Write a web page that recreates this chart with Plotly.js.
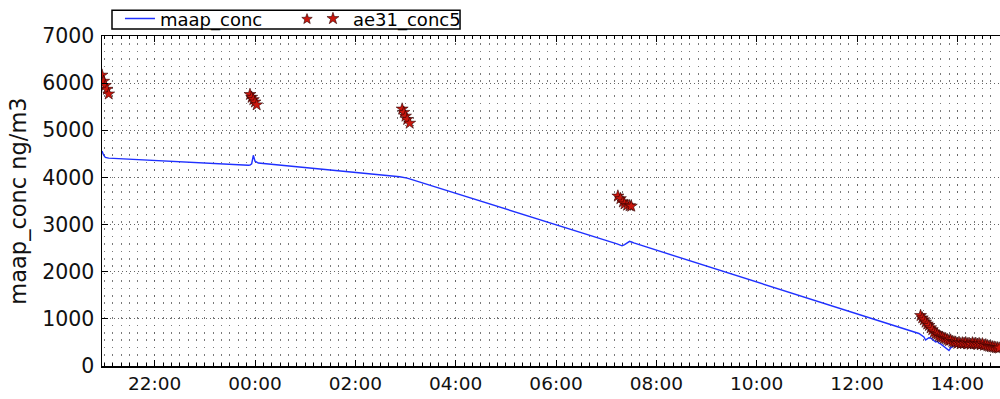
<!DOCTYPE html>
<html>
<head>
<meta charset="utf-8">
<script src="https://cdn.plot.ly/plotly-3.0.1.min.js"></script>
<style>
html,body{margin:0;padding:0;background:#fff;}
#chart{width:1000px;height:399px;}
</style>
</head>
<body>
<div id="chart"></div>
<script>
// maap_conc (blue line)
const maapTime = [
 '2014-06-12 20:57','2014-06-12 20:59','2014-06-12 21:01','2014-06-12 21:03','2014-06-12 21:05',
 '2014-06-12 23:52','2014-06-12 23:54','2014-06-12 23:56','2014-06-12 23:58','2014-06-13 00:00','2014-06-13 00:02','2014-06-13 00:04',
 '2014-06-13 02:53','2014-06-13 02:56','2014-06-13 02:59','2014-06-13 03:02',
 '2014-06-13 07:13','2014-06-13 07:16','2014-06-13 07:19','2014-06-13 07:22','2014-06-13 07:25','2014-06-13 07:28','2014-06-13 07:31','2014-06-13 07:33',
 '2014-06-13 13:14','2014-06-13 13:16','2014-06-13 13:18','2014-06-13 13:20','2014-06-13 13:22','2014-06-13 13:24','2014-06-13 13:26','2014-06-13 13:28',
 '2014-06-13 13:30','2014-06-13 13:32','2014-06-13 13:34','2014-06-13 13:36','2014-06-13 13:38','2014-06-13 13:40','2014-06-13 13:42','2014-06-13 13:44',
 '2014-06-13 13:46','2014-06-13 13:48','2014-06-13 13:50','2014-06-13 13:52','2014-06-13 13:54','2014-06-13 13:56','2014-06-13 13:58','2014-06-13 14:00',
 '2014-06-13 14:02','2014-06-13 14:04','2014-06-13 14:06','2014-06-13 14:08','2014-06-13 14:10','2014-06-13 14:12','2014-06-13 14:14','2014-06-13 14:16',
 '2014-06-13 14:18','2014-06-13 14:20','2014-06-13 14:22','2014-06-13 14:24','2014-06-13 14:26','2014-06-13 14:28','2014-06-13 14:30','2014-06-13 14:32',
 '2014-06-13 14:34','2014-06-13 14:36','2014-06-13 14:38','2014-06-13 14:40','2014-06-13 14:42','2014-06-13 14:44','2014-06-13 14:46','2014-06-13 14:48',
 '2014-06-13 14:50'
];
const maapConc = [
 4560,4470,4425,4415,4410,
 4258,4262,4290,4470,4345,4315,4305,
 4015,4008,4000,3985,
 2590,2570,2550,2575,2610,2645,2625,2610,
 690,665,640,615,550,585,600,595,
 560,530,510,525,485,470,440,425,
 400,365,330,385,410,430,425,440,
 420,445,430,450,440,455,430,445,
 440,450,430,440,420,435,415,425,
 405,410,395,400,385,390,375,380,
 370
];

// ae31_conc5 (red stars)
const aeTime = [
 '2014-06-12 20:57','2014-06-12 20:59','2014-06-12 21:01','2014-06-12 21:03','2014-06-12 21:05',
 '2014-06-12 23:54','2014-06-12 23:56','2014-06-12 23:58','2014-06-13 00:00','2014-06-13 00:02',
 '2014-06-13 02:56','2014-06-13 02:58','2014-06-13 03:00','2014-06-13 03:02','2014-06-13 03:05',
 '2014-06-13 07:14','2014-06-13 07:17','2014-06-13 07:20','2014-06-13 07:22','2014-06-13 07:25','2014-06-13 07:28','2014-06-13 07:30',
 '2014-06-13 13:16','2014-06-13 13:18','2014-06-13 13:20','2014-06-13 13:22','2014-06-13 13:24','2014-06-13 13:26','2014-06-13 13:28','2014-06-13 13:30',
 '2014-06-13 13:32','2014-06-13 13:34','2014-06-13 13:36','2014-06-13 13:38','2014-06-13 13:40','2014-06-13 13:42','2014-06-13 13:44','2014-06-13 13:46',
 '2014-06-13 13:48','2014-06-13 13:50','2014-06-13 13:52','2014-06-13 13:54','2014-06-13 13:56','2014-06-13 13:58','2014-06-13 14:00','2014-06-13 14:02',
 '2014-06-13 14:04','2014-06-13 14:06','2014-06-13 14:08','2014-06-13 14:10','2014-06-13 14:12','2014-06-13 14:14','2014-06-13 14:16','2014-06-13 14:18',
 '2014-06-13 14:20','2014-06-13 14:22','2014-06-13 14:24','2014-06-13 14:26','2014-06-13 14:28','2014-06-13 14:30','2014-06-13 14:32','2014-06-13 14:34',
 '2014-06-13 14:36','2014-06-13 14:38','2014-06-13 14:40','2014-06-13 14:42','2014-06-13 14:44','2014-06-13 14:46','2014-06-13 14:48','2014-06-13 14:50'
];
const aeConc5 = [
 6170,6040,5950,5870,5770,
 5760,5700,5650,5600,5540,
 5450,5380,5300,5230,5150,
 3605,3550,3480,3440,3410,3400,3390,
 1070,1020,980,930,890,860,810,770,
 720,690,670,640,620,610,590,580,
 560,540,550,520,510,505,480,500,
 470,490,480,495,470,480,460,490,
 470,480,460,475,450,470,440,450,
 430,420,410,405,400,390,385,380
];

const xRange = ['2014-06-12 20:57','2014-06-13 14:51'];
const yRange = [0, 7000];
const xTick0 = '2014-06-12 22:00';

const FONT = 'DejaVu Sans, sans-serif';
const STAR_FILL = '#cc160c';

const traces = [
 {
  x: maapTime, y: maapConc, name: 'maap_conc', type: 'scatter', mode: 'lines',
  line: {color: '#1f30ff', width: 1.4}
 },
 {
  x: aeTime, y: aeConc5, name: 'ae31_conc5', type: 'scatter', mode: 'markers',
  marker: {symbol: 'star', size: 9, color: STAR_FILL, line: {color: '#2a0000', width: 0.6}}
 }
];

// second legend star (matplotlib draws two marker samples)
const starPath = 'M0,5.5 L-1.35,1.86 L-5.23,1.7 L-2.19,-0.71 L-3.23,-4.45 L0,-2.3 L3.23,-4.45 L2.19,-0.71 L5.23,1.7 L1.35,1.86 Z';

const layout = {
 width: 1000, height: 399,
 margin: {l: 102, r: 0, t: 34, b: 33, pad: 0},
 paper_bgcolor: '#fff', plot_bgcolor: '#fff',
 font: {family: FONT, color: '#000', size: 19},
 showlegend: true,
 legend: {
  orientation: 'h', x: 0.0200, xanchor: 'left', y: 1.108, yanchor: 'top',
  borderwidth: 0, bgcolor: 'rgba(0,0,0,0)',
  font: {family: FONT, size: 18, color: '#000'},
  itemwidth: 30, entrywidth: 148, tracegroupgap: 0
 },
 shapes: [
  {type: 'rect', xref: 'paper', yref: 'paper', x0: 0.01114, x1: 0.3987, y0: 1.0211, y1: 1.0783,
   line: {color: '#000', width: 1.5}, fillcolor: 'rgba(0,0,0,0)', layer: 'above'},
  {type: 'path', xref: 'paper', yref: 'paper', xsizemode: 'pixel', ysizemode: 'pixel',
   xanchor: 0.2283, yanchor: 1.0512, path: starPath,
   fillcolor: STAR_FILL, line: {color: '#2a0000', width: 0.6}, layer: 'above'}
 ],
 xaxis: {
  type: 'date', range: xRange,
  tickmode: 'linear', tick0: xTick0, dtick: 7200000, tickformat: '%H:%M',
  ticks: 'inside', ticklen: 6, tickwidth: 1, tickcolor: '#000',
  showline: true, linecolor: '#000', linewidth: 1.5, mirror: 'ticks',
  showgrid: true, gridcolor: '#666', gridwidth: 1, griddash: '1.5px,5.9px',
  zeroline: false,
  tickfont: {family: FONT, size: 18.5, color: '#111'},
  minor: {dtick: 600000, tick0: xTick0, ticks: 'inside', ticklen: 3, tickcolor: '#000', tickwidth: 1,
          showgrid: true, gridcolor: '#7a7a7a', gridwidth: 1, griddash: '1.5px,5.9px'}
 },
 yaxis: {
  range: yRange, tickmode: 'linear', tick0: 0, dtick: 1000,
  ticks: 'inside', ticklen: 6, tickwidth: 1, tickcolor: '#000',
  showline: true, linecolor: '#000', linewidth: 1.5, mirror: false,
  showgrid: true, gridcolor: '#666', gridwidth: 1, griddash: '1px,3px',
  zeroline: false, ticklabelstandoff: 2,
  tickfont: {family: FONT, size: 20.5, color: '#111'},
  title: {text: 'maap_conc ng/m3', font: {family: FONT, size: 22.5, color: '#111'}, standoff: 9}
 }
};

Plotly.newPlot('chart', traces, layout, {staticPlot: true, displayModeBar: false});
</script>
</body>
</html>
